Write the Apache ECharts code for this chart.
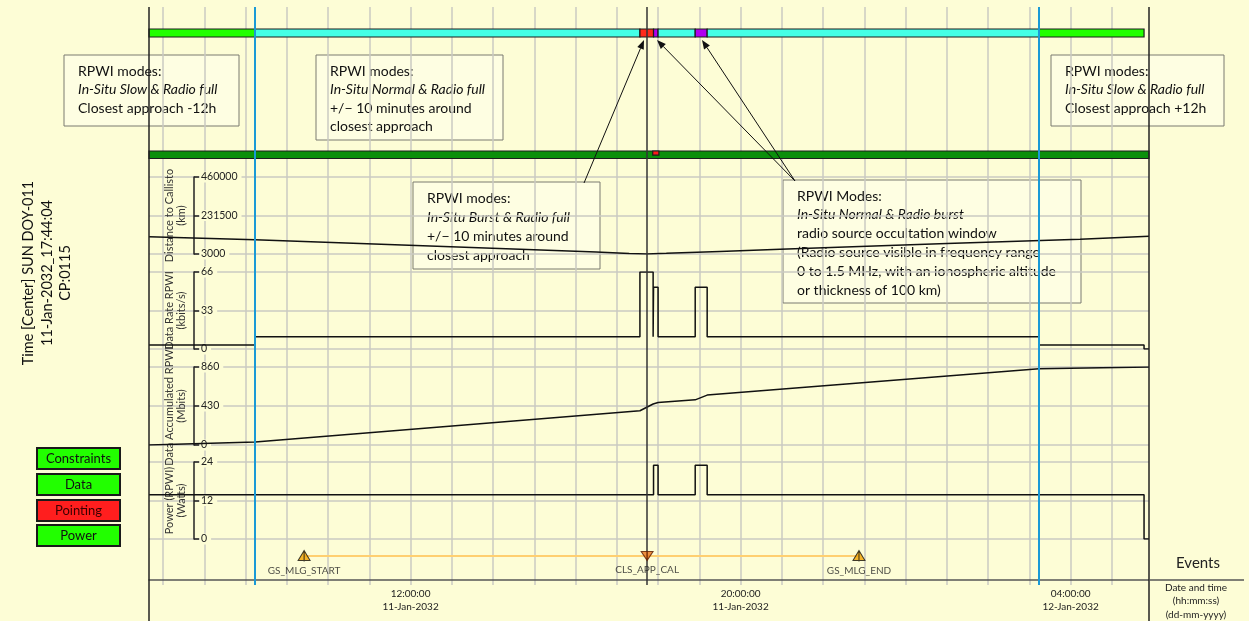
<!DOCTYPE html>
<html><head><meta charset="utf-8">
<script src="https://cdn.jsdelivr.net/npm/echarts@6/dist/echarts.min.js"></script>
<style>html,body{margin:0;padding:0;background:#fdfdd6;} #c{width:1249px;height:621px;}</style>
</head><body><div id="c"></div>
<script>
// Time unit: hours since 11-Jan-2032 00:00:00
const T_MIN = 5.66, T_MAX = 29.9;
const closestApproach = 17.7344;            // 17:44:04
const modeWindow = [8.234, 27.234];         // blue lines
const hourGrid = [6,7,8,9,10,11,12,13,14,15,16,17,18,19,20,21,22,23,24,25,26,27,28,29];
const timeLabels = [12, 20, 28];

// RPWI mode timeline (top bar)
const topBarStart = [5.66, 8.234, 17.56, 17.89, 18.0, 18.9, 19.19, 27.234];
const topBarEnd   = [8.234, 17.56, 17.89, 18.0, 18.9, 19.19, 27.234, 29.78];
const topBarMode  = ['slow','normal','burst','radio','normal','radio','normal','slow'];

// pointing / constraints bar
const pointBarStart = [5.66, 17.87];
const pointBarEnd   = [29.9, 18.02];
const pointBarMode  = ['ok', 'conflict'];

// Distance to Callisto (km)
const distTime = [5.66, 8.23, 12.47, 16.5, 17.3, 17.73, 18.2, 19.5, 20.96, 25.0, 28.23, 29.9];
const distKm   = [105700, 87900, 50500, 14500, 6500, 3000, 6800, 18500, 31500, 64700, 91000, 108000];
const distTicks = [3000, 231500, 460000];

// Data rate RPWI (kbits/s) - step changes
const rateTime = [5.66, 8.234, 17.56, 17.88, 17.89, 18.0, 18.9, 19.19, 27.234, 29.78, 29.9];
const rateKbps = [3.5, 10.5, 66, 10.5, 53, 10.5, 53, 10.5, 3.5, 0, 0];
const rateTicks = [0, 33, 66];

// Data accumulated RPWI (Mbits)
const accTime = [5.66, 8.234, 17.56, 17.88, 17.89, 18.0, 18.9, 19.19, 27.234, 29.9];
const accMbit = [0, 33, 378, 452, 452, 468, 498, 550, 840, 860];
const accTicks = [0, 430, 860];

// Power RPWI (Watts) - step changes
const powTime = [5.66, 17.89, 18.0, 18.9, 19.19, 29.78, 29.9];
const powW    = [13.8, 23, 13.8, 23, 13.8, 0, 0];
const powTicks = [0, 12, 24];

// Events
const eventNames = ['GS_MLG_START', 'CLS_APP_CAL', 'GS_MLG_END'];
const eventTimes = [9.42, 17.7344, 22.87];
const eventKinds = ['up', 'down', 'up'];

const FONT = 'Lato, "Open Sans", sans-serif';
const BG = '#fdfdd6';
const GRIDC = '#cacac2';
const MODE_KEYS = ['slow','normal','burst','radio','ok','conflict'];
const MODE_COLORS = ['#22ff00','#44ffe6','#ff2a1a','#b000f0','#0b8f0b','#ff1a1a'];

const chart = echarts.init(document.getElementById('c'), null, {renderer:'canvas', width:1249, height:621});

const L = 149, W = 1000;
const gridBoxes = [
  [7, 578],    // 0 background (vertical grid lines)
  [29, 8],     // 1 mode bar
  [151, 7.5],  // 2 pointing bar
  [177, 77],   // 3 distance
  [272, 77],   // 4 data rate
  [367, 78],   // 5 data accumulated
  [462, 77],   // 6 power
  [532, 48]    // 7 events
];
const grid = gridBoxes.map(g => ({left: L, width: W, top: g[0], height: g[1], outerBoundsMode: 'none', containLabel: false}));

function pad(n){ return (n < 10 ? '0' : '') + n; }
const xAxis = gridBoxes.map((g, i) => {
  const ax = {gridIndex: i, type: 'value', min: T_MIN, max: T_MAX, show: false};
  if (i === 0) {
    Object.assign(ax, {show: true, axisLine: {show: false}, axisLabel: {show: false},
      axisTick: {show: false, customValues: hourGrid},
      splitLine: {show: true, lineStyle: {color: GRIDC, width: 1.5}}});
  }
  if (i === 7) {
    Object.assign(ax, {show: true, position: 'bottom',
      axisLine: {show: true, lineStyle: {color: '#555', width: 1.5}},
      axisTick: {show: false},
      splitLine: {show: false},
      axisLabel: {show: true, customValues: timeLabels, margin: 7, color: '#222', fontSize: 10, lineHeight: 13, fontFamily: FONT,
        formatter: v => pad(Math.round(v) % 24) + ':00:00\n' + (v < 24 ? '11-Jan-2032' : '12-Jan-2032')}});
  }
  return ax;
});

function panelY(gi, name, ticks) {
  return {gridIndex: gi, type: 'value', min: ticks[0], max: ticks[ticks.length - 1], position: 'left', offset: -45,
    name: name, nameLocation: 'middle', nameRotate: 90, nameGap: 6, nameMoveOverlap: false,
    nameTextStyle: {fontSize: 11, color: '#333', lineHeight: 12.5, fontFamily: FONT},
    axisLine: {show: true, lineStyle: {color: '#222', width: 1.5}},
    axisTick: {show: true, inside: true, length: 5, customValues: ticks, lineStyle: {color: '#222', width: 1.5}},
    axisLabel: {show: true, inside: true, customValues: ticks, margin: 6, color: '#222', fontSize: 10.5, fontFamily: FONT,
      formatter: v => String(v), backgroundColor: BG, padding: [0, 4, 0, 1]},
    splitLine: {show: true, lineStyle: {color: GRIDC, width: 1.5}}};
}
const yAxis = [
  {gridIndex: 0, type: 'value', min: 0, max: 1, show: false},
  {gridIndex: 1, type: 'value', min: 0, max: 1, show: false},
  {gridIndex: 2, type: 'value', min: 0, max: 1, show: false},
  panelY(3, 'Distance to Callisto\n(km)', distTicks),
  panelY(4, 'Data Rate RPWI\n(kbits/s)', rateTicks),
  panelY(5, 'Data Accumulated RPWI\n(Mbits)', accTicks),
  panelY(6, 'Power (RPWI)\n(Watts)', powTicks),
  {gridIndex: 7, type: 'value', min: 0, max: 1, show: false}
];

function renderSeg(params, api) {
  const cs = params.coordSys;
  const a = api.coord([api.value(0), 0.5])[0];
  const b = api.coord([api.value(1), 0.5])[0];
  const k = api.value(2);
  const h = MODE_KEYS[k] === 'conflict' ? cs.height * 0.55 : cs.height;
  return {type: 'rect', shape: {x: a, y: cs.y, width: b - a, height: h},
    style: {fill: MODE_COLORS[k], stroke: '#1c1c1c', lineWidth: 1.2}};
}
function segData(s, e, m) { return s.map((v, i) => [v, e[i], MODE_KEYS.indexOf(m[i])]); }
function pairs(t, v) { return t.map((x, i) => [x, v[i]]); }
const lineBase = {type: 'line', showSymbol: false, symbol: 'none', silent: true, z: 4,
  lineStyle: {color: '#111', width: 1.5}};

const upPath = 'path://M0,10 L5,0 L10,10 Z M5,0 L5,11';
const downPath = 'path://M0,0 L10,0 L5,9 Z M5,0 L5,9';

const series = [
  {type: 'line', xAxisIndex: 0, yAxisIndex: 0, data: [], silent: true, z: 1,
    markLine: {silent: true, symbol: ['none','none'], label: {show: false}, animation: false,
      lineStyle: {color: '#1a9ad6', width: 2, type: 'solid'}, emphasis: {disabled: true},
      data: modeWindow.map(t => ({xAxis: t}))}},
  {type: 'custom', xAxisIndex: 1, yAxisIndex: 1, renderItem: renderSeg, z: 3, silent: true,
    encode: {x: [0, 1]}, data: segData(topBarStart, topBarEnd, topBarMode)},
  {type: 'custom', xAxisIndex: 2, yAxisIndex: 2, renderItem: renderSeg, z: 3, silent: true,
    encode: {x: [0, 1]}, data: segData(pointBarStart, pointBarEnd, pointBarMode)},
  Object.assign({}, lineBase, {xAxisIndex: 3, yAxisIndex: 3, data: pairs(distTime, distKm)}),
  Object.assign({}, lineBase, {xAxisIndex: 4, yAxisIndex: 4, step: 'end', data: pairs(rateTime, rateKbps)}),
  Object.assign({}, lineBase, {xAxisIndex: 5, yAxisIndex: 5, data: pairs(accTime, accMbit)}),
  Object.assign({}, lineBase, {xAxisIndex: 6, yAxisIndex: 6, step: 'end', data: pairs(powTime, powW)}),
  {type: 'line', xAxisIndex: 7, yAxisIndex: 7, showSymbol: false, symbol: 'none', silent: true, z: 3,
    lineStyle: {color: '#ffcf70', width: 2},
    data: [[eventTimes[0], 0.5], [eventTimes[eventTimes.length - 1], 0.5]]},
  {type: 'scatter', xAxisIndex: 7, yAxisIndex: 7, silent: true, z: 6,
    data: eventNames.map((n, i) => ({name: n, value: [eventTimes[i], 0.5],
      symbol: eventKinds[i] === 'up' ? upPath : downPath,
      symbolSize: eventKinds[i] === 'up' ? [12, 11] : [12, 9],
      itemStyle: {color: eventKinds[i] === 'up' ? '#f2a200' : '#e8731a',
        borderColor: eventKinds[i] === 'up' ? '#111' : '#5a1a00', borderWidth: 1}})),
    label: {show: true, position: 'bottom', distance: 4, formatter: '{b}', color: '#222', fontSize: 10, fontFamily: FONT}},
  {type: 'line', xAxisIndex: 0, yAxisIndex: 0, data: [], silent: true, z: 10,
    markLine: {silent: true, symbol: ['none','none'], label: {show: false}, animation: false,
      lineStyle: {color: '#333', width: 1.5, type: 'solid'}, emphasis: {disabled: true},
      data: [{xAxis: closestApproach}]}}
];

// ---- annotation graphics ----
function noteBox(x, y, w, h, lines, dy) {
  const children = [{type: 'rect', shape: {x: 0, y: 0, width: w, height: h},
    style: {fill: 'rgba(253,253,230,0.75)', stroke: '#7a7a70', lineWidth: 1}}];
  lines.forEach((ln, i) => children.push({type: 'text', x: 14, y: 16 + i * dy,
    style: {text: ln[0], fontSize: 14, fontFamily: FONT, fontStyle: ln[1] ? 'italic' : 'normal',
      fill: '#111', verticalAlign: 'middle', align: 'left'}}));
  return {type: 'group', x: x, y: y, z: 50, children: children};
}
function arrow(x1, y1, x2, y2) {
  const dx = x2 - x1, dy = y2 - y1, len = Math.sqrt(dx * dx + dy * dy);
  const ux = dx / len, uy = dy / len, hl = 9, hw = 3.5;
  const bx = x2 - ux * hl, by = y2 - uy * hl;
  return [
    {type: 'line', z: 51, shape: {x1: x1, y1: y1, x2: bx, y2: by}, style: {stroke: '#111', lineWidth: 1}},
    {type: 'polygon', z: 51, shape: {points: [[x2, y2], [bx - uy * hw, by + ux * hw], [bx + uy * hw, by - ux * hw]]},
      style: {fill: '#111'}}
  ];
}
function legendBox(y, label, fill, textFill) {
  return {type: 'group', x: 37, y: y, z: 50, children: [
    {type: 'rect', shape: {x: 0, y: 0, width: 83, height: 21}, style: {fill: fill, stroke: '#1a1a1a', lineWidth: 2}},
    {type: 'text', x: 41.5, y: 11, style: {text: label, fontSize: 13, fontFamily: FONT, fill: textFill, align: 'center', verticalAlign: 'middle'}}
  ]};
}
function vline(x, y1, y2, c, w) { return {type: 'line', z: 20, shape: {x1: x, y1: y1, x2: x, y2: y2}, style: {stroke: c, lineWidth: w}}; }

const graphic = [
  vline(149, 7, 621, '#222', 1.5),
  vline(1149, 7, 621, '#222', 1.5),
  {type: 'line', z: 20, shape: {x1: 1149, y1: 580, x2: 1244, y2: 580}, style: {stroke: '#555', lineWidth: 1.5}},
  noteBox(64, 55, 175, 71, [['RPWI modes:', false], ['In-Situ Slow & Radio full', true], ['Closest approach -12h', false]], 18.6),
  noteBox(316, 55, 187, 85, [['RPWI modes:', false], ['In-Situ Normal & Radio full', true], ['+/\u2212 10 minutes around', false], ['closest approach', false]], 18.6),
  noteBox(1051, 55, 173, 71, [['RPWI modes:', false], ['In-Situ Slow & Radio full', true], ['Closest approach +12h', false]], 18.6),
  noteBox(413, 182, 187, 87, [['RPWI modes:', false], ['In-Situ Burst & Radio full', true], ['+/\u2212 10 minutes around', false], ['closest approach', false]], 19),
  noteBox(783, 180, 298, 123, [['RPWI Modes:', false], ['In-Situ Normal & Radio burst', true], ['radio source occultation window', false],
    ['(Radio source visible in frequency range', false], ['0 to 1.5 MHz, with an ionospheric altitude', false], ['or thickness of 100 km)', false]], 18.8),
  ...arrow(584, 183, 644, 40),
  ...arrow(795, 181, 657, 40),
  ...arrow(795, 181, 702, 40),
  {type: 'text', x: 47, y: 273, rotation: Math.PI / 2, z: 50,
    style: {text: 'Time [Center] SUN DOY-011\n11-Jan-2032_17:44:04\nCP:0115', fontSize: 14.5, lineHeight: 18.5,
      fontFamily: FONT, fill: '#111', align: 'center', verticalAlign: 'middle'}},
  legendBox(448, 'Constraints', '#22ff00', '#111'),
  legendBox(474, 'Data', '#22ff00', '#111'),
  legendBox(500, 'Pointing', '#ff1e1e', '#3a0000'),
  legendBox(525, 'Power', '#22ff00', '#111'),
  {type: 'text', x: 1198, y: 563, z: 50, style: {text: 'Events', fontSize: 15, fontFamily: FONT, fill: '#222', align: 'center', verticalAlign: 'middle'}},
  {type: 'text', x: 1196, y: 601, z: 50, style: {text: 'Date and time\n(hh:mm:ss)\n(dd-mm-yyyy)', fontSize: 10, lineHeight: 13.5,
    fontFamily: FONT, fill: '#222', align: 'center', verticalAlign: 'middle'}}
];

chart.setOption({
  backgroundColor: BG,
  animation: false,
  grid: grid,
  xAxis: xAxis,
  yAxis: yAxis,
  series: series,
  graphic: graphic
});
</script>
</body></html>
